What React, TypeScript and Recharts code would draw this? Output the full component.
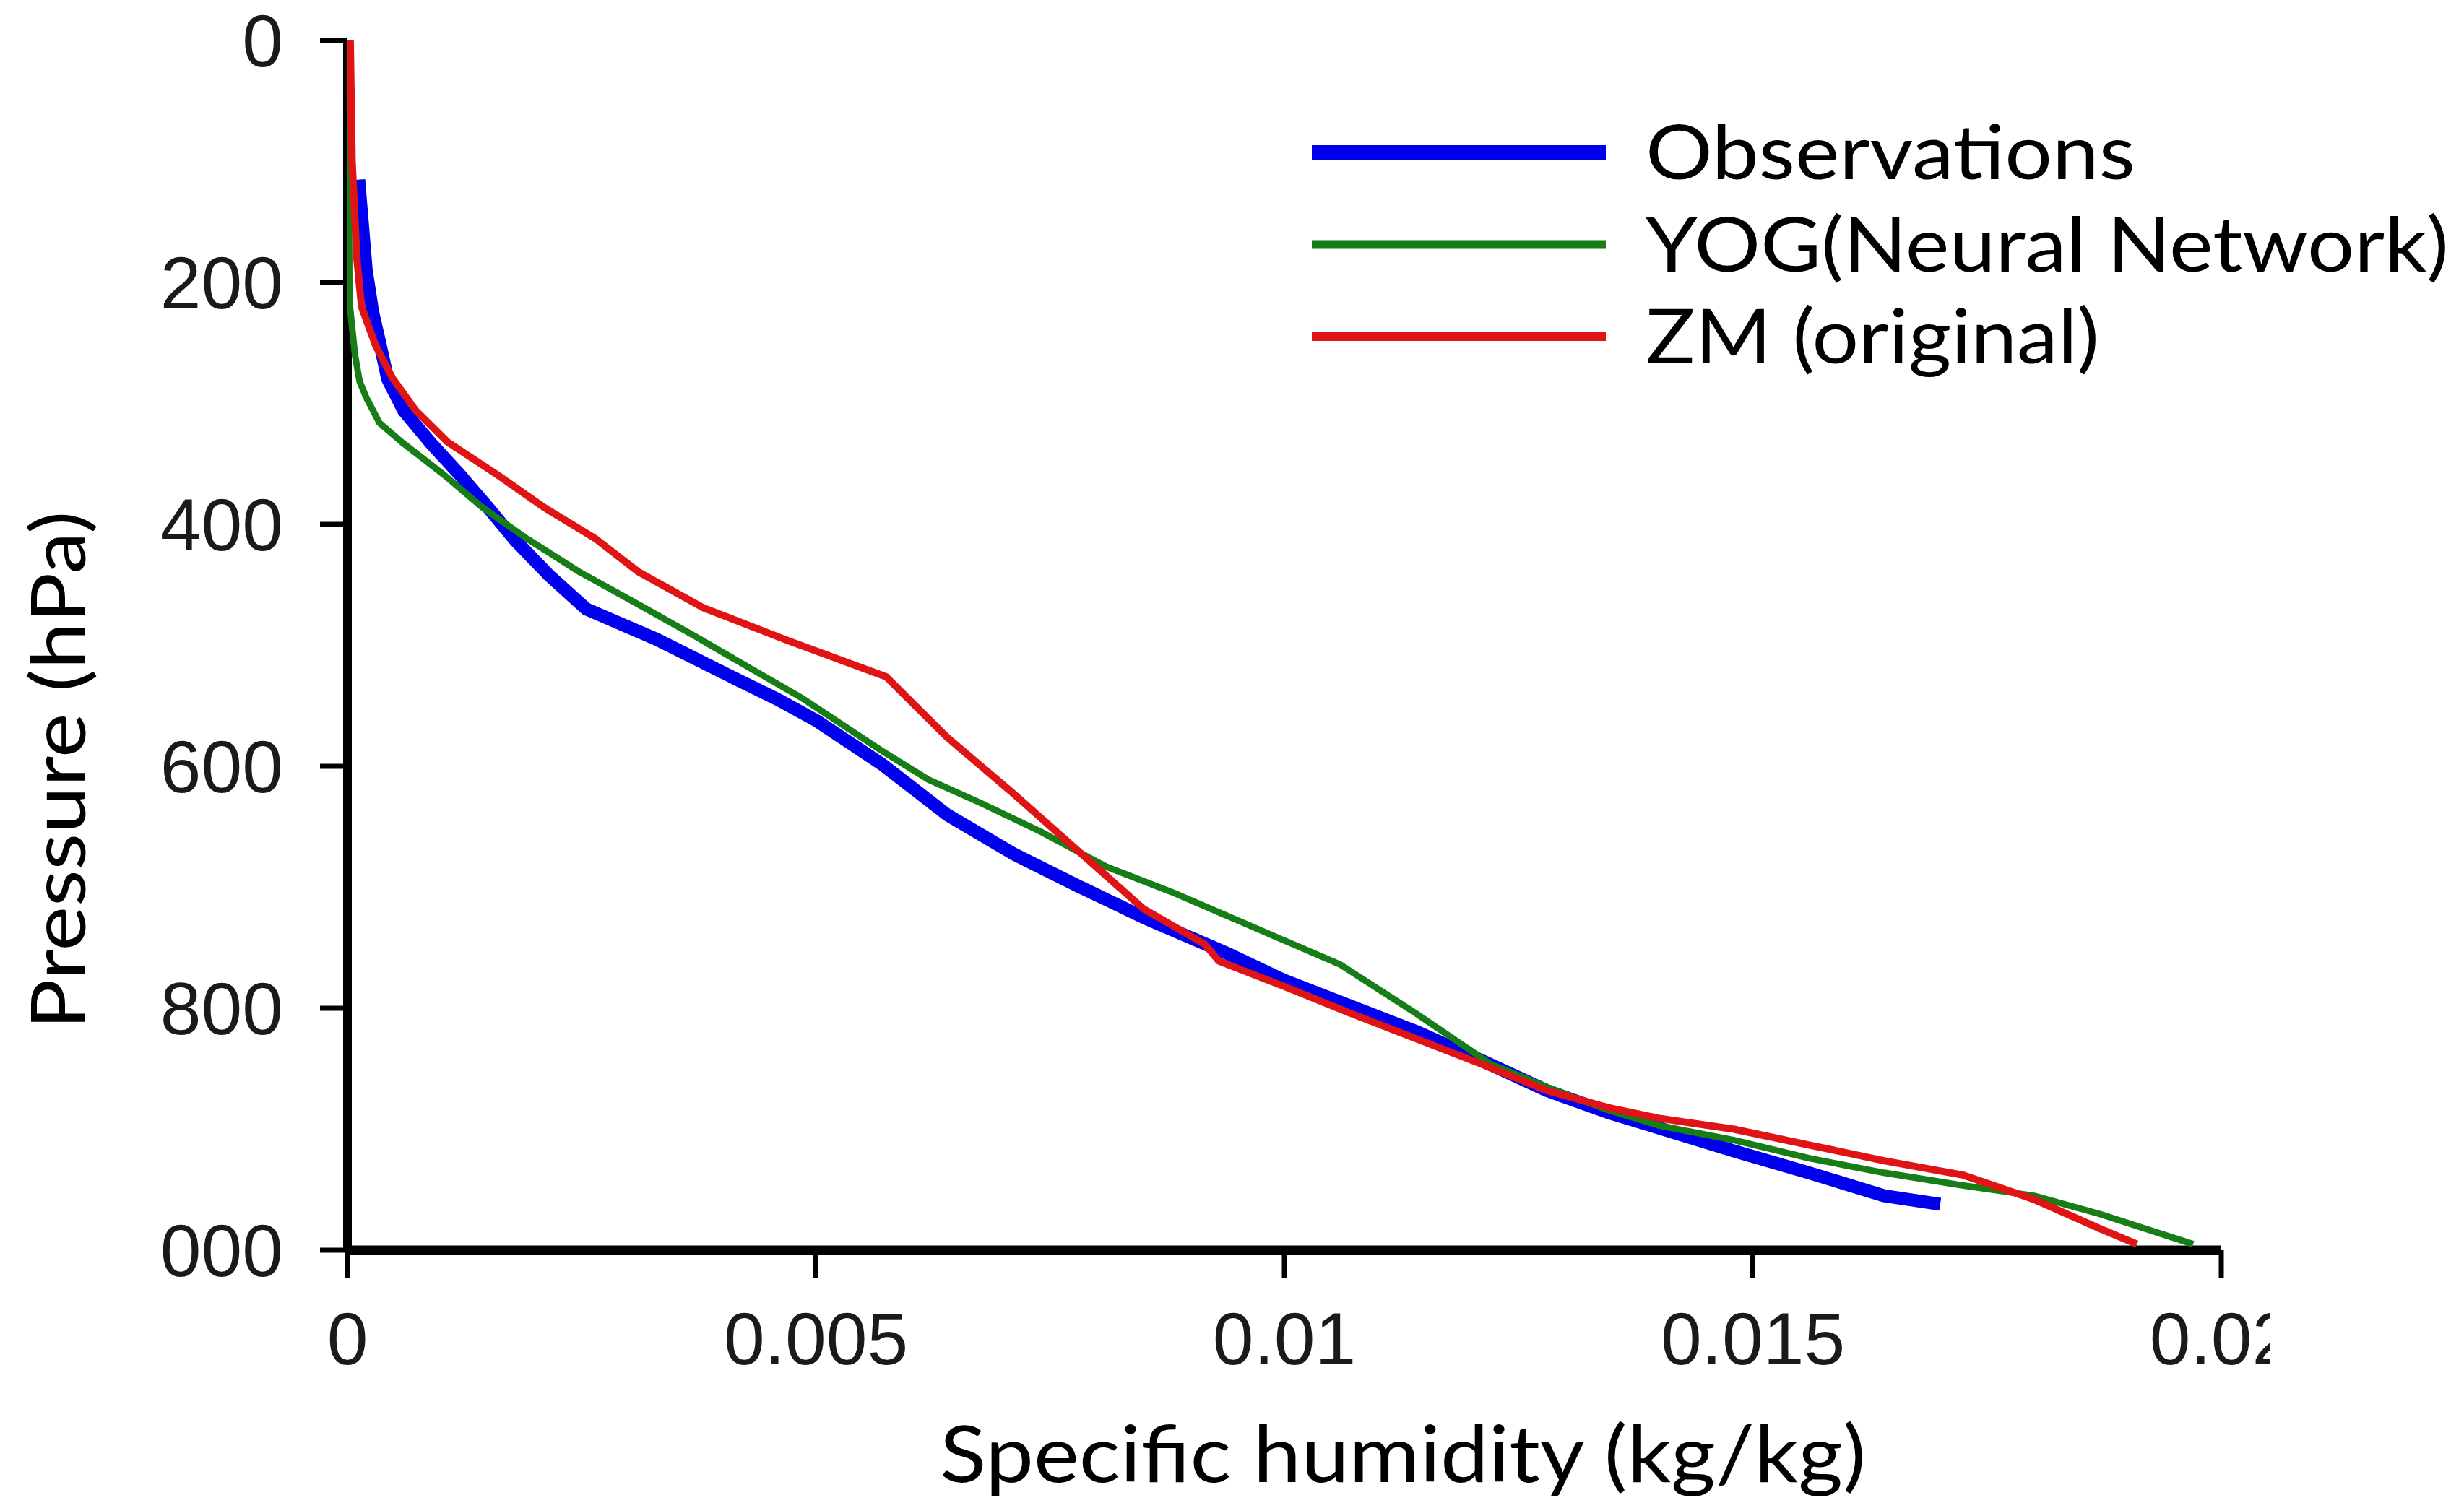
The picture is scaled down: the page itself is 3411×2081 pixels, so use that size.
import React from 'react';
import { ScatterChart, Scatter, XAxis, YAxis, Legend } from 'recharts';

// ---- data ----
const xTicks = [0, 0.005, 0.01, 0.015, 0.02];
const yTicks = [0, 200, 400, 600, 800, 1000];

const obsPressure = [115, 190, 225, 252, 280, 306, 332, 359, 386, 414, 442, 470, 495, 526, 545, 562, 598, 640, 672, 699, 725, 755, 777, 798, 819, 843, 868, 886, 899, 918, 936, 955, 962];
const obsHumidity = [0.00012, 0.0002, 0.00027, 0.00035, 0.00043, 0.0006, 0.00088, 0.0012, 0.0015, 0.0018, 0.00215, 0.00255, 0.0033, 0.0041, 0.0046, 0.005, 0.0057, 0.0064, 0.0071, 0.0078, 0.0085, 0.0094, 0.01, 0.0107, 0.0114, 0.0121, 0.0128, 0.01345, 0.014, 0.0148, 0.0156, 0.0164, 0.017];

const yogPressure = [0, 215, 260, 282, 295, 316, 332, 359, 386, 412, 439, 466, 492, 510, 544, 587, 611, 630, 654, 683, 704, 724, 734, 764, 804, 846, 865, 884, 897, 909, 924, 936, 946, 955, 970, 995];
const yogHumidity = [0.00001, 0.00002, 0.00008, 0.00013, 0.0002, 0.00034, 0.00058, 0.00103, 0.00144, 0.00192, 0.00247, 0.0031, 0.0037, 0.0041, 0.00486, 0.0057, 0.0062, 0.00675, 0.0074, 0.0081, 0.0088, 0.0094, 0.0097, 0.0106, 0.0114, 0.0122, 0.0128, 0.01345, 0.014, 0.0148, 0.0156, 0.0164, 0.0172, 0.018, 0.0187, 0.0197];

const zmPressure = [0, 100, 180, 220, 252, 279, 306, 332, 359, 386, 412, 439, 469, 496, 526, 576, 622, 670, 718, 747, 761, 782, 804, 825, 846, 868, 882, 891, 900, 913, 926, 938, 958, 982, 995];
const zmHumidity = [0.00003, 0.00005, 0.0001, 0.00015, 0.0003, 0.00048, 0.00073, 0.00107, 0.0016, 0.0021, 0.00265, 0.0031, 0.0038, 0.0047, 0.00575, 0.0064, 0.0071, 0.0078, 0.0085, 0.00915, 0.0093, 0.01, 0.0107, 0.0114, 0.0121, 0.0128, 0.01345, 0.014, 0.0148, 0.0156, 0.0164, 0.01725, 0.018, 0.0187, 0.0191];

const seriesNames = ['Observations', 'YOG(Neural Network)', 'ZM (original)'];

// ---- styles ----
const BLUE = '#0000ee';
const GREEN = '#177d17';
const RED = '#e01414';
const TICK_FONT = '"Liberation Sans", Arial, sans-serif';
const TITLE_FONT = 'Lato, "Open Sans", sans-serif';

const zip = (p: number[], q: number[]) => p.map((v, i) => ({ p: v, q: q[i] }));
const obsData = zip(obsPressure, obsHumidity);
const yogData = zip(yogPressure, yogHumidity);
const zmData = zip(zmPressure, zmHumidity);

const W = 3395;
const H = 2065;

const YTick = (props: any) => {
  const { x, y, payload } = props;
  const id = `yclip-${payload.value}`;
  return (
    <g>
      <defs>
        <clipPath id={id}>
          <rect x={209} y={y - 120} width={400} height={240} />
        </clipPath>
      </defs>
      <text x={x} y={y} dy="0.355em" textAnchor="end" fontFamily={TICK_FONT} fontSize={102} fill="#1a1a1a" clipPath={`url(#${id})`}>
        {String(payload.value)}
      </text>
    </g>
  );
};

const XTick = (props: any) => {
  const { x, y, payload } = props;
  const id = `xclip-${String(payload.value).replace('.', '_')}`;
  return (
    <g>
      <defs>
        <clipPath id={id}>
          <rect x={0} y={y - 50} width={3135} height={250} />
        </clipPath>
      </defs>
      <text x={x} y={y} dy="0.71em" textAnchor="middle" fontFamily={TICK_FONT} fontSize={102} fill="#1a1a1a" clipPath={`url(#${id})`}>
        {String(payload.value)}
      </text>
    </g>
  );
};

const XTitle = (props: any) => {
  const vb = props.viewBox || { x: 473, y: 1723, width: 2594, height: 342 };
  const cx = vb.x + vb.width / 2 + 164;
  const by = vb.y + 321;
  return (
    <text x={cx} y={by} textAnchor="middle" fontFamily={TITLE_FONT} fontSize={108} fill="#000" textLength={1282} lengthAdjust="spacingAndGlyphs">
      Specific humidity (kg/kg)
    </text>
  );
};

const YTitle = (props: any) => {
  const vb = props.viewBox || { x: 0, y: 48, width: 473, height: 1675 };
  const bx = vb.x + 110;
  const cy = vb.y + vb.height / 2 + 173;
  return (
    <text x={bx} y={cy} transform={`rotate(-90 ${bx} ${cy})`} textAnchor="middle" fontFamily={TITLE_FONT} fontSize={105} fill="#000" textLength={718} lengthAdjust="spacingAndGlyphs">
      Pressure (hPa)
    </text>
  );
};

const legendItems = [
  { name: seriesNames[0], color: BLUE, width: 20, len: 678 },
  { name: seriesNames[1], color: GREEN, width: 12, len: 1112 },
  { name: seriesNames[2], color: RED, width: 12, len: 628 },
];

const renderLegend = () => (
  <svg width={1610} height={420} style={{ display: 'block', overflow: 'visible' }}>
    {legendItems.map((it, i) => {
      const cy = 93 + i * 127.5;
      return (
        <g key={it.name}>
          <line x1={28} x2={435} y1={cy} y2={cy} stroke={it.color} strokeWidth={it.width} />
          <text x={490} y={cy} dy="0.36em" fontFamily={TITLE_FONT} fontSize={104} fill="#000" textLength={it.len} lengthAdjust="spacingAndGlyphs">
            {it.name}
          </text>
        </g>
      );
    })}
  </svg>
);

const NoDot = () => <g />;

export default function App() {
  return (
    <div style={{ width: W, height: H, background: '#fff' }}>
      <ScatterChart width={W} height={H} margin={{ top: 48, right: 328, bottom: 0, left: 0 }}>
        <XAxis
          type="number"
          dataKey="q"
          domain={[0, 0.02]}
          ticks={xTicks}
          interval={0}
          allowDataOverflow
          height={342}
          tickSize={38}
          tickMargin={48}
          axisLine={{ stroke: '#000', strokeWidth: 13 }}
          tickLine={{ stroke: '#000', strokeWidth: 7 }}
          tick={XTick}
          label={XTitle}
        />
        <YAxis
          type="number"
          dataKey="p"
          domain={[0, 1000]}
          ticks={yTicks}
          interval={0}
          reversed
          allowDataOverflow
          width={473}
          tickSize={38}
          tickMargin={51}
          axisLine={{ stroke: '#000', strokeWidth: 12 }}
          tickLine={{ stroke: '#000', strokeWidth: 7 }}
          tick={YTick}
          label={YTitle}
        />
        <Legend
          layout="vertical"
          align="center"
          verticalAlign="middle"
          content={renderLegend}
          wrapperStyle={{ left: 1780, top: 110, width: 1610, height: 420 }}
        />
        <Scatter name={seriesNames[0]} data={obsData} fill={BLUE} line={{ stroke: BLUE, strokeWidth: 18, strokeLinejoin: 'round' }} lineType="joint" shape={NoDot} isAnimationActive={false} />
        <Scatter name={seriesNames[1]} data={yogData} fill={GREEN} line={{ stroke: GREEN, strokeWidth: 9, strokeLinejoin: 'round' }} lineType="joint" shape={NoDot} isAnimationActive={false} />
        <Scatter name={seriesNames[2]} data={zmData} fill={RED} line={{ stroke: RED, strokeWidth: 10, strokeLinejoin: 'round' }} lineType="joint" shape={NoDot} isAnimationActive={false} />
      </ScatterChart>
    </div>
  );
}
